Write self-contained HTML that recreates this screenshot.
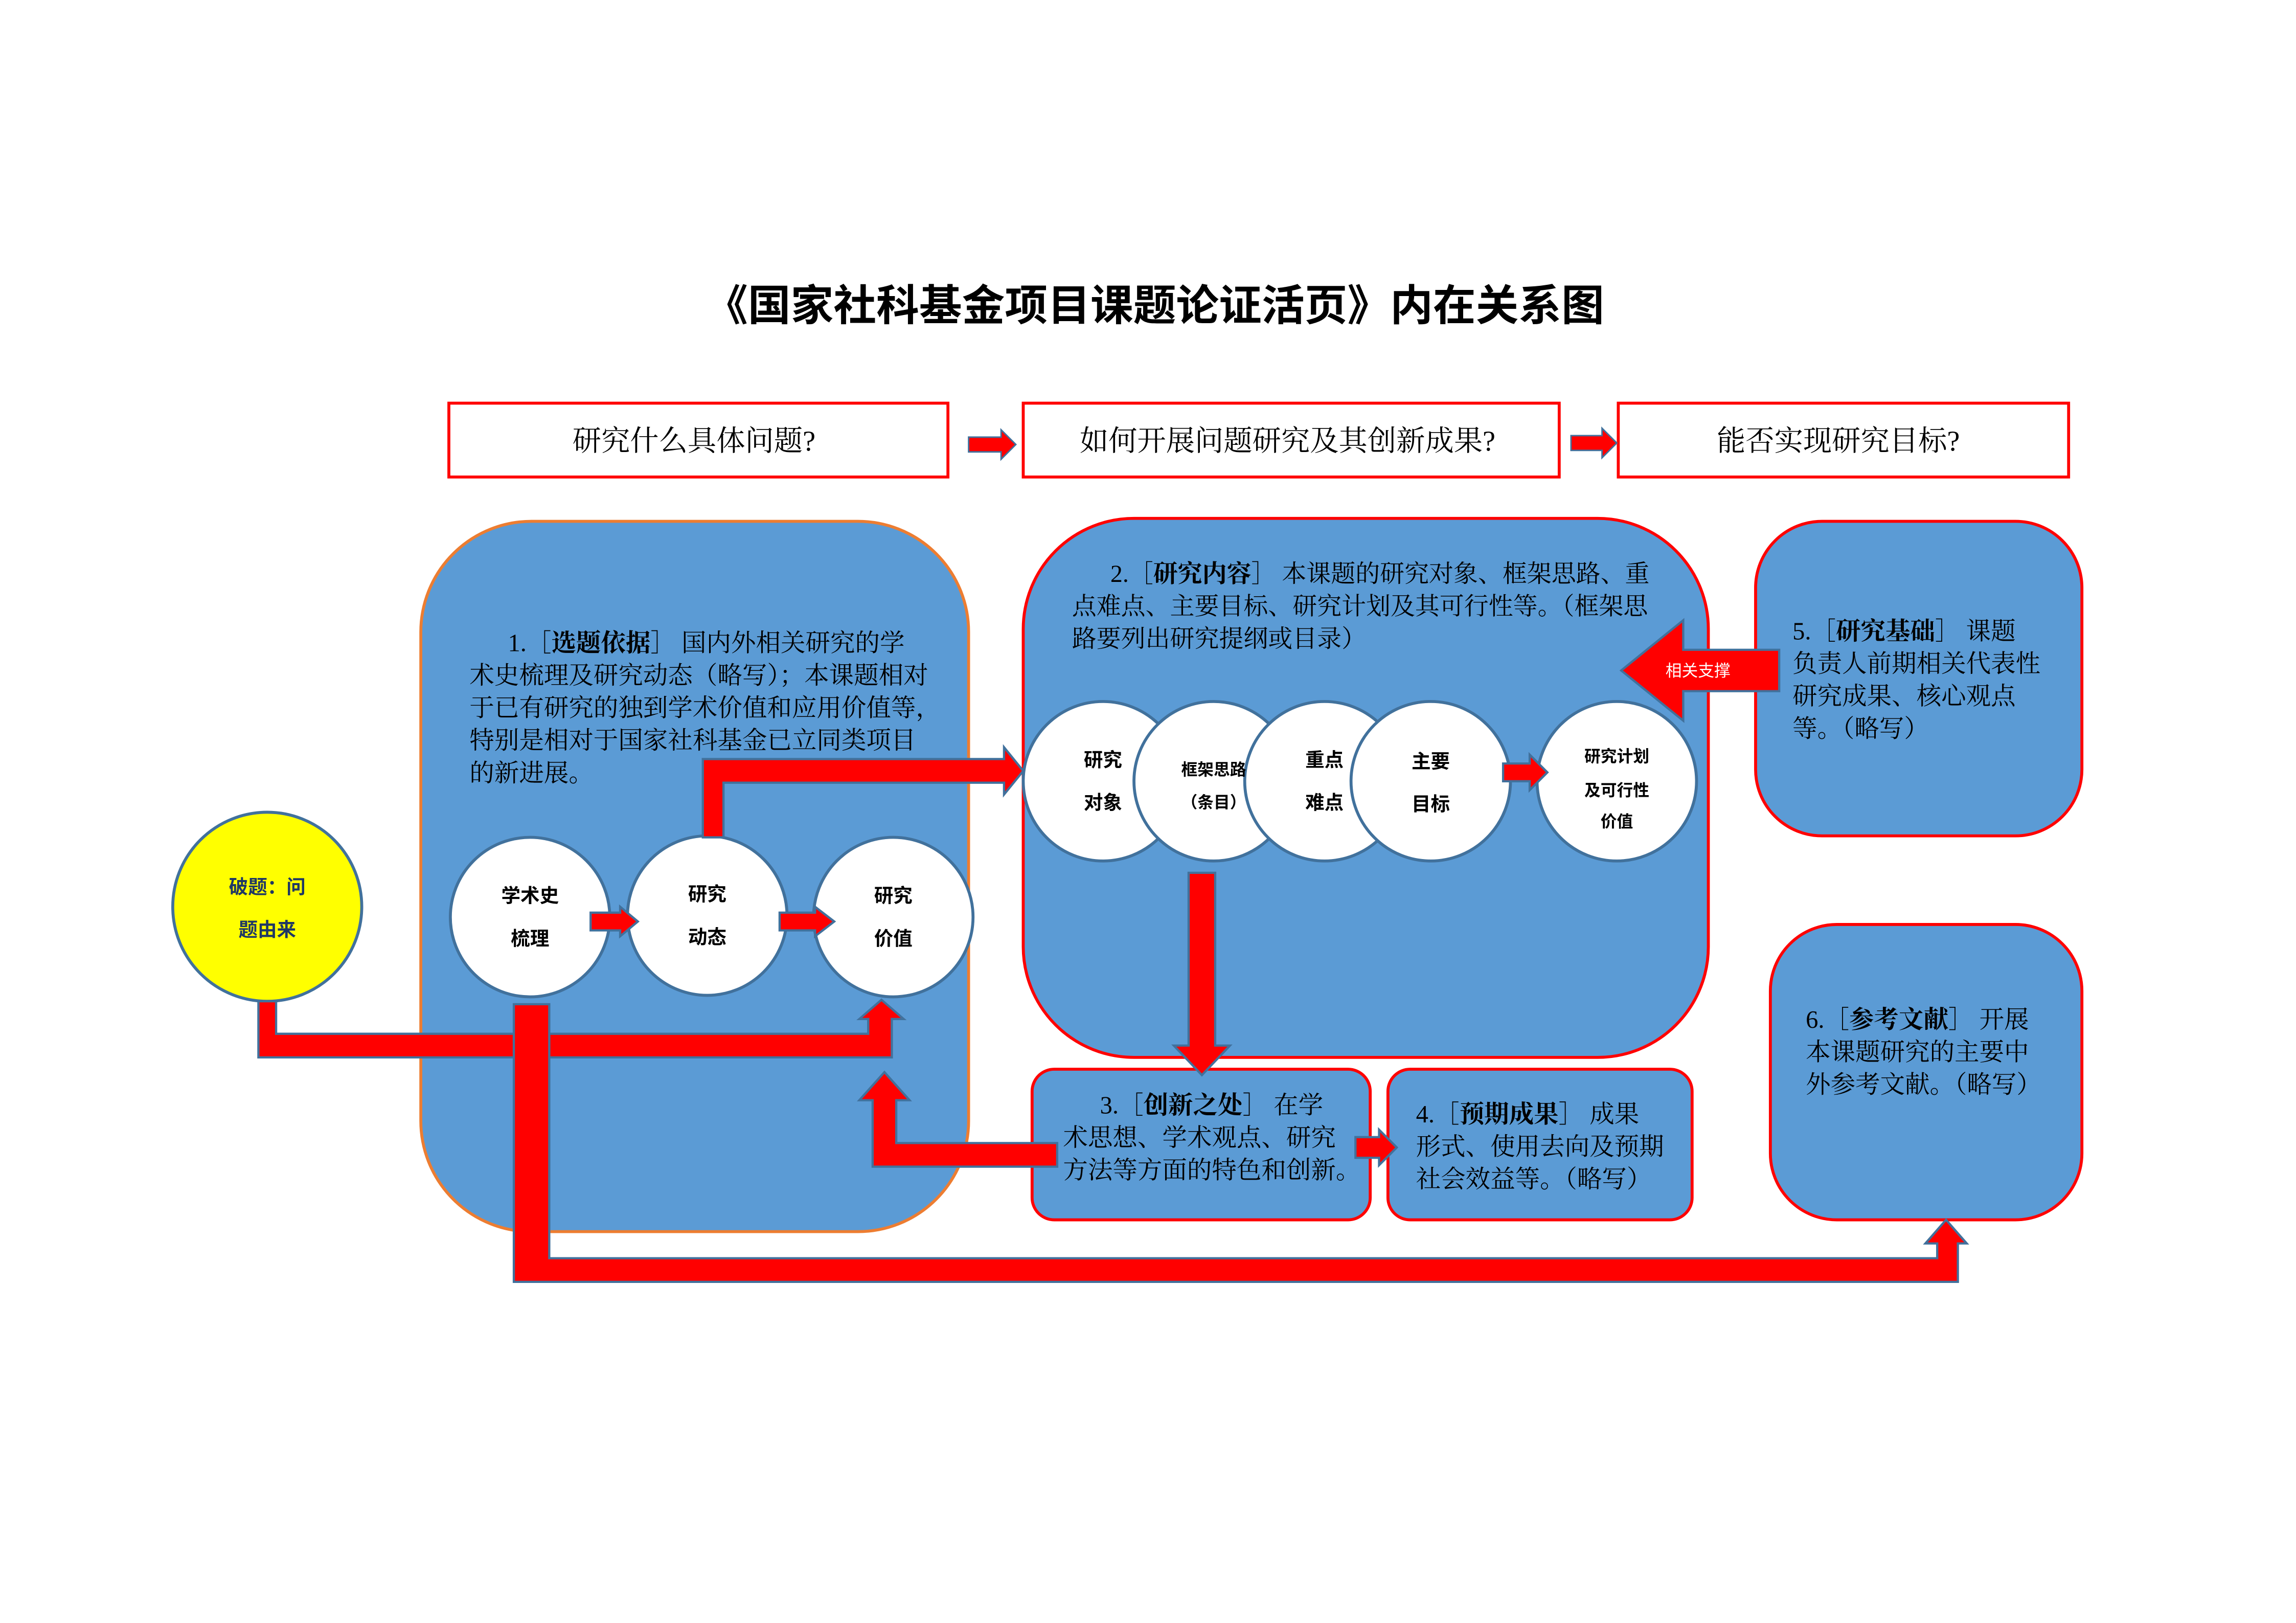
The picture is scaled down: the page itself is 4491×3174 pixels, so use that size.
<!DOCTYPE html>
<html><head><meta charset="utf-8"><style>
html,body{margin:0;padding:0;background:#fff;}
svg{display:block;}
text{font-family:"Liberation Serif","Noto Serif CJK SC",serif;fill:#000;}
.s{font-family:"Liberation Sans","Noto Sans CJK SC",sans-serif;}
</style></head><body>
<svg width="4491" height="3174" viewBox="0 0 1555 1099" preserveAspectRatio="none" xmlns="http://www.w3.org/2000/svg">
<rect width="1555" height="1099" fill="#fff"/>
<text x="782" y="217" text-anchor="middle" class="s" font-size="29" font-weight="bold">《国家社科基金项目课题论证活页》内在关系图</text>

<g fill="#fff" stroke="#f00" stroke-width="2">
<rect x="304" y="273" width="338" height="50"/>
<rect x="693" y="273" width="363" height="50"/>
<rect x="1096" y="273" width="305" height="50"/>
</g>
<g font-size="19.5" text-anchor="middle">
<text x="470" y="305">研究什么具体问题?</text>
<text x="872" y="305">如何开展问题研究及其创新成果?</text>
<text x="1245" y="305">能否实现研究目标?</text>
</g>
<g fill="#f00" stroke="#41719C" stroke-width="1">
<polygon points="656,296 678,296 678,291 688,301 678,311 678,306 656,306"/>
<polygon points="1064,295 1085,295 1085,290 1095,300 1085,310 1085,305 1064,305"/>
</g>

<rect x="285" y="353" width="371" height="481" rx="75" fill="#5B9BD5" stroke="#ED7D31" stroke-width="2"/>
<rect x="693" y="351" width="464" height="365" rx="75" fill="#5B9BD5" stroke="#f00" stroke-width="2"/>
<rect x="1189" y="353" width="221" height="213" rx="45" fill="#5B9BD5" stroke="#f00" stroke-width="2"/>
<rect x="1199" y="626" width="211" height="200" rx="45" fill="#5B9BD5" stroke="#f00" stroke-width="2"/>
<rect x="699" y="724" width="229" height="102" rx="15" fill="#5B9BD5" stroke="#f00" stroke-width="2"/>
<rect x="940" y="724" width="206" height="102" rx="15" fill="#5B9BD5" stroke="#f00" stroke-width="2"/>

<g font-size="16.8">
<text x="344" y="441"><tspan>1.［</tspan><tspan font-weight="bold">选题依据</tspan><tspan>］ 国内外相关研究的学</tspan></text>
<text x="318" y="463">术史梳理及研究动态（略写）；本课题相对</text>
<text x="318" y="485">于已有研究的独到学术价值和应用价值等，</text>
<text x="318" y="507">特别是相对于国家社科基金已立同类项目</text>
<text x="318" y="529">的新进展。</text>

<text x="752" y="394" font-size="16.6"><tspan>2.［</tspan><tspan font-weight="bold">研究内容</tspan><tspan>］ 本课题的研究对象、框架思路、重</tspan></text>
<text x="726" y="416" font-size="16.6">点难点、主要目标、研究计划及其可行性等。（框架思</text>
<text x="726" y="438" font-size="16.6">路要列出研究提纲或目录）</text>

<text x="1214" y="433"><tspan>5.［</tspan><tspan font-weight="bold">研究基础</tspan><tspan>］  课题</tspan></text>
<text x="1214" y="455">负责人前期相关代表性</text>
<text x="1214" y="477">研究成果、核心观点</text>
<text x="1214" y="499">等。（略写）</text>

<text x="1223" y="696"><tspan>6.［</tspan><tspan font-weight="bold">参考文献</tspan><tspan>］  开展</tspan></text>
<text x="1223" y="718">本课题研究的主要中</text>
<text x="1223" y="740">外参考文献。（略写）</text>

<text x="745" y="754"><tspan>3.［</tspan><tspan font-weight="bold">创新之处</tspan><tspan>］ 在学</tspan></text>
<text x="720" y="776">术思想、学术观点、研究</text>
<text x="720" y="798">方法等方面的特色和创新。</text>

<text x="959" y="760"><tspan>4.［</tspan><tspan font-weight="bold">预期成果</tspan><tspan>］ 成果</tspan></text>
<text x="959" y="782">形式、使用去向及预期</text>
<text x="959" y="804">社会效益等。（略写）</text>
</g>

<ellipse cx="181" cy="614" rx="64" ry="64" fill="#FFFF00" stroke="#41719C" stroke-width="2"/>
<g fill="#fff" stroke="#41719C" stroke-width="2">
<circle cx="359" cy="621" r="54"/>
<circle cx="479" cy="620" r="54"/>
<circle cx="605" cy="621" r="54"/>
<circle cx="747" cy="529" r="54"/>
<circle cx="822" cy="529" r="54"/>
<circle cx="897" cy="529" r="54"/>
<circle cx="969" cy="529" r="54"/>
<circle cx="1095" cy="529" r="54"/>
</g>
<g font-size="13" text-anchor="middle" font-weight="bold">
<text class="s" x="181" y="605" style="fill:#1F3864">破题：问</text>
<text class="s" x="181" y="634" style="fill:#1F3864">题由来</text>
<text class="s" x="359" y="611">学术史</text><text class="s" x="359" y="640">梳理</text>
<text class="s" x="479" y="610">研究</text><text class="s" x="479" y="639">动态</text>
<text class="s" x="605" y="611">研究</text><text class="s" x="605" y="640">价值</text>
<text class="s" x="747" y="519">研究</text><text class="s" x="747" y="548">对象</text>
<text class="s" x="822" y="525" font-size="11">框架思路</text><text class="s" x="822" y="547" font-size="11">（条目）</text>
<text class="s" x="897" y="519">重点</text><text class="s" x="897" y="548">难点</text>
<text class="s" x="969" y="520">主要</text><text class="s" x="969" y="549">目标</text>
<text class="s" x="1095" y="516" font-size="11">研究计划</text><text class="s" x="1095" y="539" font-size="11">及可行性</text><text class="s" x="1095" y="560" font-size="11">价值</text>
</g>

<g fill="#f00" stroke="#41719C" stroke-width="1.5">
<polygon points="476,567 476,514 680,514 680,506 693,522 680,538 680,530 490,530 490,567"/>
<polygon points="400,618 420,618 420,614 432,624 420,634 420,630 400,630"/>
<polygon points="528,618 552,618 552,614 565,624 552,634 552,630 528,630"/>
<polygon points="1018,517 1036,517 1036,511 1048,523 1036,535 1036,529 1018,529"/>
<polygon points="1205,440 1140,440 1140,420 1098,454 1140,488 1140,468 1205,468"/>
<polygon points="805,591 823,591 823,708 833,708 814,728 795,708 805,708"/>
<polygon points="175,678 187,678 187,700 588,700 588,690 582,690 597,677 612,690 604,690 604,716 175,716"/>
<polygon points="348,680 372,680 372,852 1312,852 1312,842 1304,842 1318,826 1332,842 1326,842 1326,868 348,868"/>
<polygon points="716,774 716,790 591,790 591,745 582,745 599,726 616,745 607,745 607,774"/>
<polygon points="918,770 934,770 934,765 946,777 934,789 934,784 918,784"/>
</g>
<text class="s" x="1150" y="458" font-size="11" text-anchor="middle" style="fill:#fff">相关支撑</text>
</svg>
</body></html>
